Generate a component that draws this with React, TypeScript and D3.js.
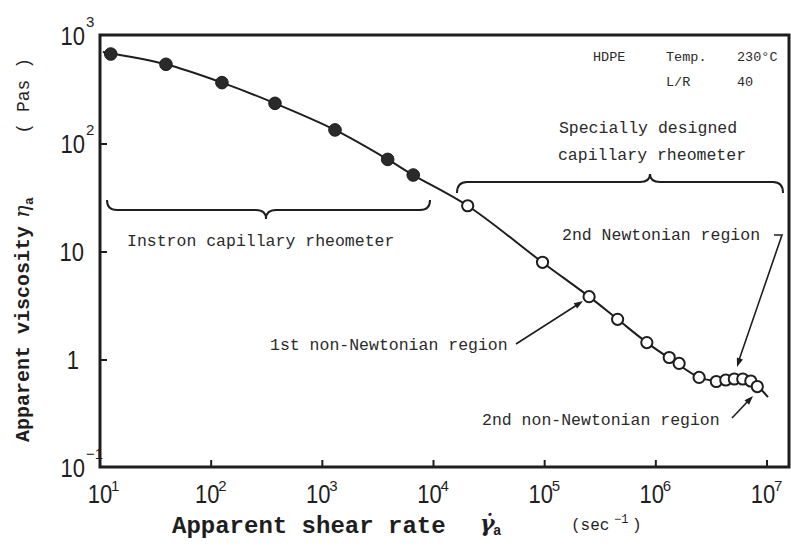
import React from "react";
import * as d3 from "d3";

// Filled circles: Instron capillary rheometer
const instronShear = [12.5, 39.2, 125, 375, 1300, 3870, 6570];
const instronVisc = [681, 547, 370, 238, 135, 72, 51.6];

// Open circles: specially designed capillary rheometer
const specialShear = [20300, 95700, 251000, 453000, 830000, 1.32e6, 1.62e6, 2.45e6, 3.5e6, 4.26e6, 5.08e6, 6.05e6, 7.15e6, 8.18e6];
const specialVisc = [26.8, 8.03, 3.86, 2.38, 1.45, 1.055, 0.93, 0.69, 0.632, 0.653, 0.667, 0.667, 0.639, 0.568];

// Smooth fitted curve
const fitShear = [10.6, 39, 125, 375, 1300, 3870, 6570, 20300, 95700, 251000, 453000, 830000, 1.4e6, 2.45e6, 3.5e6, 5.0e6, 6.5e6, 8.2e6, 1.02e7];
const fitVisc = [711, 547, 370, 238, 135, 72, 51.6, 26.8, 8.0, 3.86, 2.38, 1.45, 1.0, 0.69, 0.64, 0.655, 0.645, 0.57, 0.454];

const xTickExps = [1, 2, 3, 4, 5, 6, 7];
const yTickValues = [0.1, 1, 10, 100, 1000];
const yTickBase = ["10", "1", "10", "10", "10"];
const yTickSup = ["−1", "", "", "2", "3"];

const W = 791;
const H = 549;
const INK = "#1e1e1e";
const MONO = "'Liberation Mono', 'DejaVu Sans Mono', monospace";
const SANS = "'Liberation Sans', Arial, sans-serif";

export default function App() {
  const x = d3.scaleLog().domain([10, 1e7]).range([100, 767]);
  const y = d3.scaleLog().domain([0.1, 1000]).range([468, 36]);

  const fitPts: [number, number][] = fitShear.map((s, i) => [x(s), y(fitVisc[i])]);
  const line = d3.line().curve(d3.curveCatmullRom.alpha(0.5))(fitPts) || "";

  const left = 100, right = 789, top = 35, bottom = 467;

  const arrowHead = (x1: number, y1: number, x2: number, y2: number) => {
    const a = Math.atan2(y2 - y1, x2 - x1);
    const L = 9, w = 3.2;
    const bx = x2 - L * Math.cos(a), by = y2 - L * Math.sin(a);
    const px = -Math.sin(a) * w, py = Math.cos(a) * w;
    return `M${x2},${y2}L${bx + px},${by + py}L${bx - px},${by - py}Z`;
  };

  return (
    <svg width={W} height={H} style={{ position: "absolute", left: 0, top: 0, background: "#fff" }}>
      <rect x={0} y={0} width={W} height={H} fill="#fff" />
      {/* frame */}
      <path d={`M${left},${top}L${right},${top}L${right},${bottom}L${left},${bottom}Z`} fill="none" stroke={INK} strokeWidth={3} />

      {/* x ticks */}
      {xTickExps.map((e) => {
        const px = x(Math.pow(10, e));
        return (
          <g key={"xt" + e}>
            {e > 1 && <line x1={px} x2={px} y1={bottom} y2={bottom - 7} stroke={INK} strokeWidth={2} />}
            <text transform={`translate(${px + (e === 1 ? 0 : -4)},503) scale(0.88,1)`} textAnchor="middle" fontFamily={SANS} fontSize={25} fill={INK}>10</text>
            <text x={px + (e === 1 ? 11 : 7)} y={491} fontFamily={SANS} fontSize={15} fill={INK}>{e}</text>
          </g>
        );
      })}

      {/* y ticks */}
      {yTickValues.map((v, i) => {
        const py = y(v);
        const hasSup = yTickSup[i] !== "";
        const endX = hasSup ? 85 : yTickBase[i] === "1" ? 79 : 84;
        return (
          <g key={"yt" + i}>
            {i > 0 && i < yTickValues.length - 1 && <line x1={left} x2={left + 7} y1={py} y2={py} stroke={INK} strokeWidth={2} />}
            <text transform={`translate(${endX},${py + 9}) scale(0.88,1)`} textAnchor="end" fontFamily={SANS} fontSize={25} fill={INK}>{yTickBase[i]}</text>
            {hasSup && <text x={86} y={py - 9} fontFamily={SANS} fontSize={15} fill={INK}>{yTickSup[i]}</text>}
          </g>
        );
      })}

      {/* fitted curve */}
      <path d={line} fill="none" stroke={INK} strokeWidth={2} />

      {/* data */}
      {instronShear.map((s, i) => (
        <circle key={"f" + i} cx={x(s)} cy={y(instronVisc[i])} r={6.3} fill="#2a2a2a" stroke={INK} strokeWidth={1} />
      ))}
      {specialShear.map((s, i) => (
        <circle key={"o" + i} cx={x(s)} cy={y(specialVisc[i])} r={5.6} fill="#fff" stroke={INK} strokeWidth={2} />
      ))}

      {/* braces */}
      <path d="M107,200 Q107,210 117,210 L256,210 Q266,210 266,219 Q266,210 276,210 L420,210 Q430,210 430,200" fill="none" stroke={INK} strokeWidth={2} />
      <path d="M457,193 Q457,182 467,182 L640,182 Q650,182 650,174 Q650,182 660,182 L773,182 Q783,182 783,193" fill="none" stroke={INK} strokeWidth={2} />

      {/* annotations */}
      <g fontFamily={MONO} fontSize={16.5} fill="#2a2a2a">
        <text x={127} y={246}>Instron capillary rheometer</text>
        <text x={648} y={133} textAnchor="middle">Specially designed</text>
        <text x={652} y={160} textAnchor="middle">capillary rheometer</text>
        <text x={562} y={240}>2nd Newtonian region</text>
        <text x={270} y={350}>1st non-Newtonian region</text>
        <text x={482} y={425}>2nd non-Newtonian region</text>
      </g>
      <g fontFamily={MONO} fontSize={13.5} fill="#2a2a2a">
        <text x={593} y={61}>HDPE</text>
        <text x={666} y={61}>Temp.</text>
        <text x={737} y={61}>230°C</text>
        <text x={666} y={86}>L/R</text>
        <text x={737} y={86}>40</text>
      </g>

      {/* arrows */}
      <g stroke={INK} strokeWidth={1.6} fill="none">
        <line x1={516} y1={344} x2={580} y2={303} />
        <path d="M774,235 L782,235 L738,363" />
        <line x1={732} y1={418} x2={750} y2={399} />
      </g>
      <g fill={INK}>
        <path d={arrowHead(516, 344, 583, 301)} />
        <path d={arrowHead(782, 235, 737, 367)} />
        <path d={arrowHead(732, 418, 753, 396)} />
      </g>

      {/* axis titles */}
      <text x={172} y={533} fontFamily={MONO} fontSize={24} fontWeight="bold" fill={INK}>Apparent shear rate</text>
      <text x={480} y={531} fontFamily="'DejaVu Serif', serif" fontSize={22} fontStyle="italic" fontWeight="bold" fill={INK}>γ̇</text>
      <text x={493} y={535} fontFamily={MONO} fontSize={14} fontWeight="bold" fill={INK}>a</text>
      <text x={571} y={530} fontFamily={MONO} fontSize={16} fill={INK}>(sec</text>
      <text x={614} y={523} fontFamily={MONO} fontSize={12} fill={INK}>−1</text>
      <text x={632} y={530} fontFamily={MONO} fontSize={16} fill={INK}>)</text>

      <g transform="translate(29,0) rotate(-90)">
        <text x={-442} y={0} fontFamily={MONO} fontSize={20} fontWeight="bold" fill={INK}>Apparent viscosity</text>
        <text x={-218} y={0} fontFamily="'DejaVu Serif', serif" fontSize={21} fontStyle="italic" fill={INK}>η</text>
        <text x={-205} y={4} fontFamily={MONO} fontSize={13} fontWeight="bold" fill={INK}>a</text>
        <text x={-58} y={0} textAnchor="end" fontFamily={MONO} fontSize={18} fill={INK}>( Pas )</text>
      </g>
    </svg>
  );
}
